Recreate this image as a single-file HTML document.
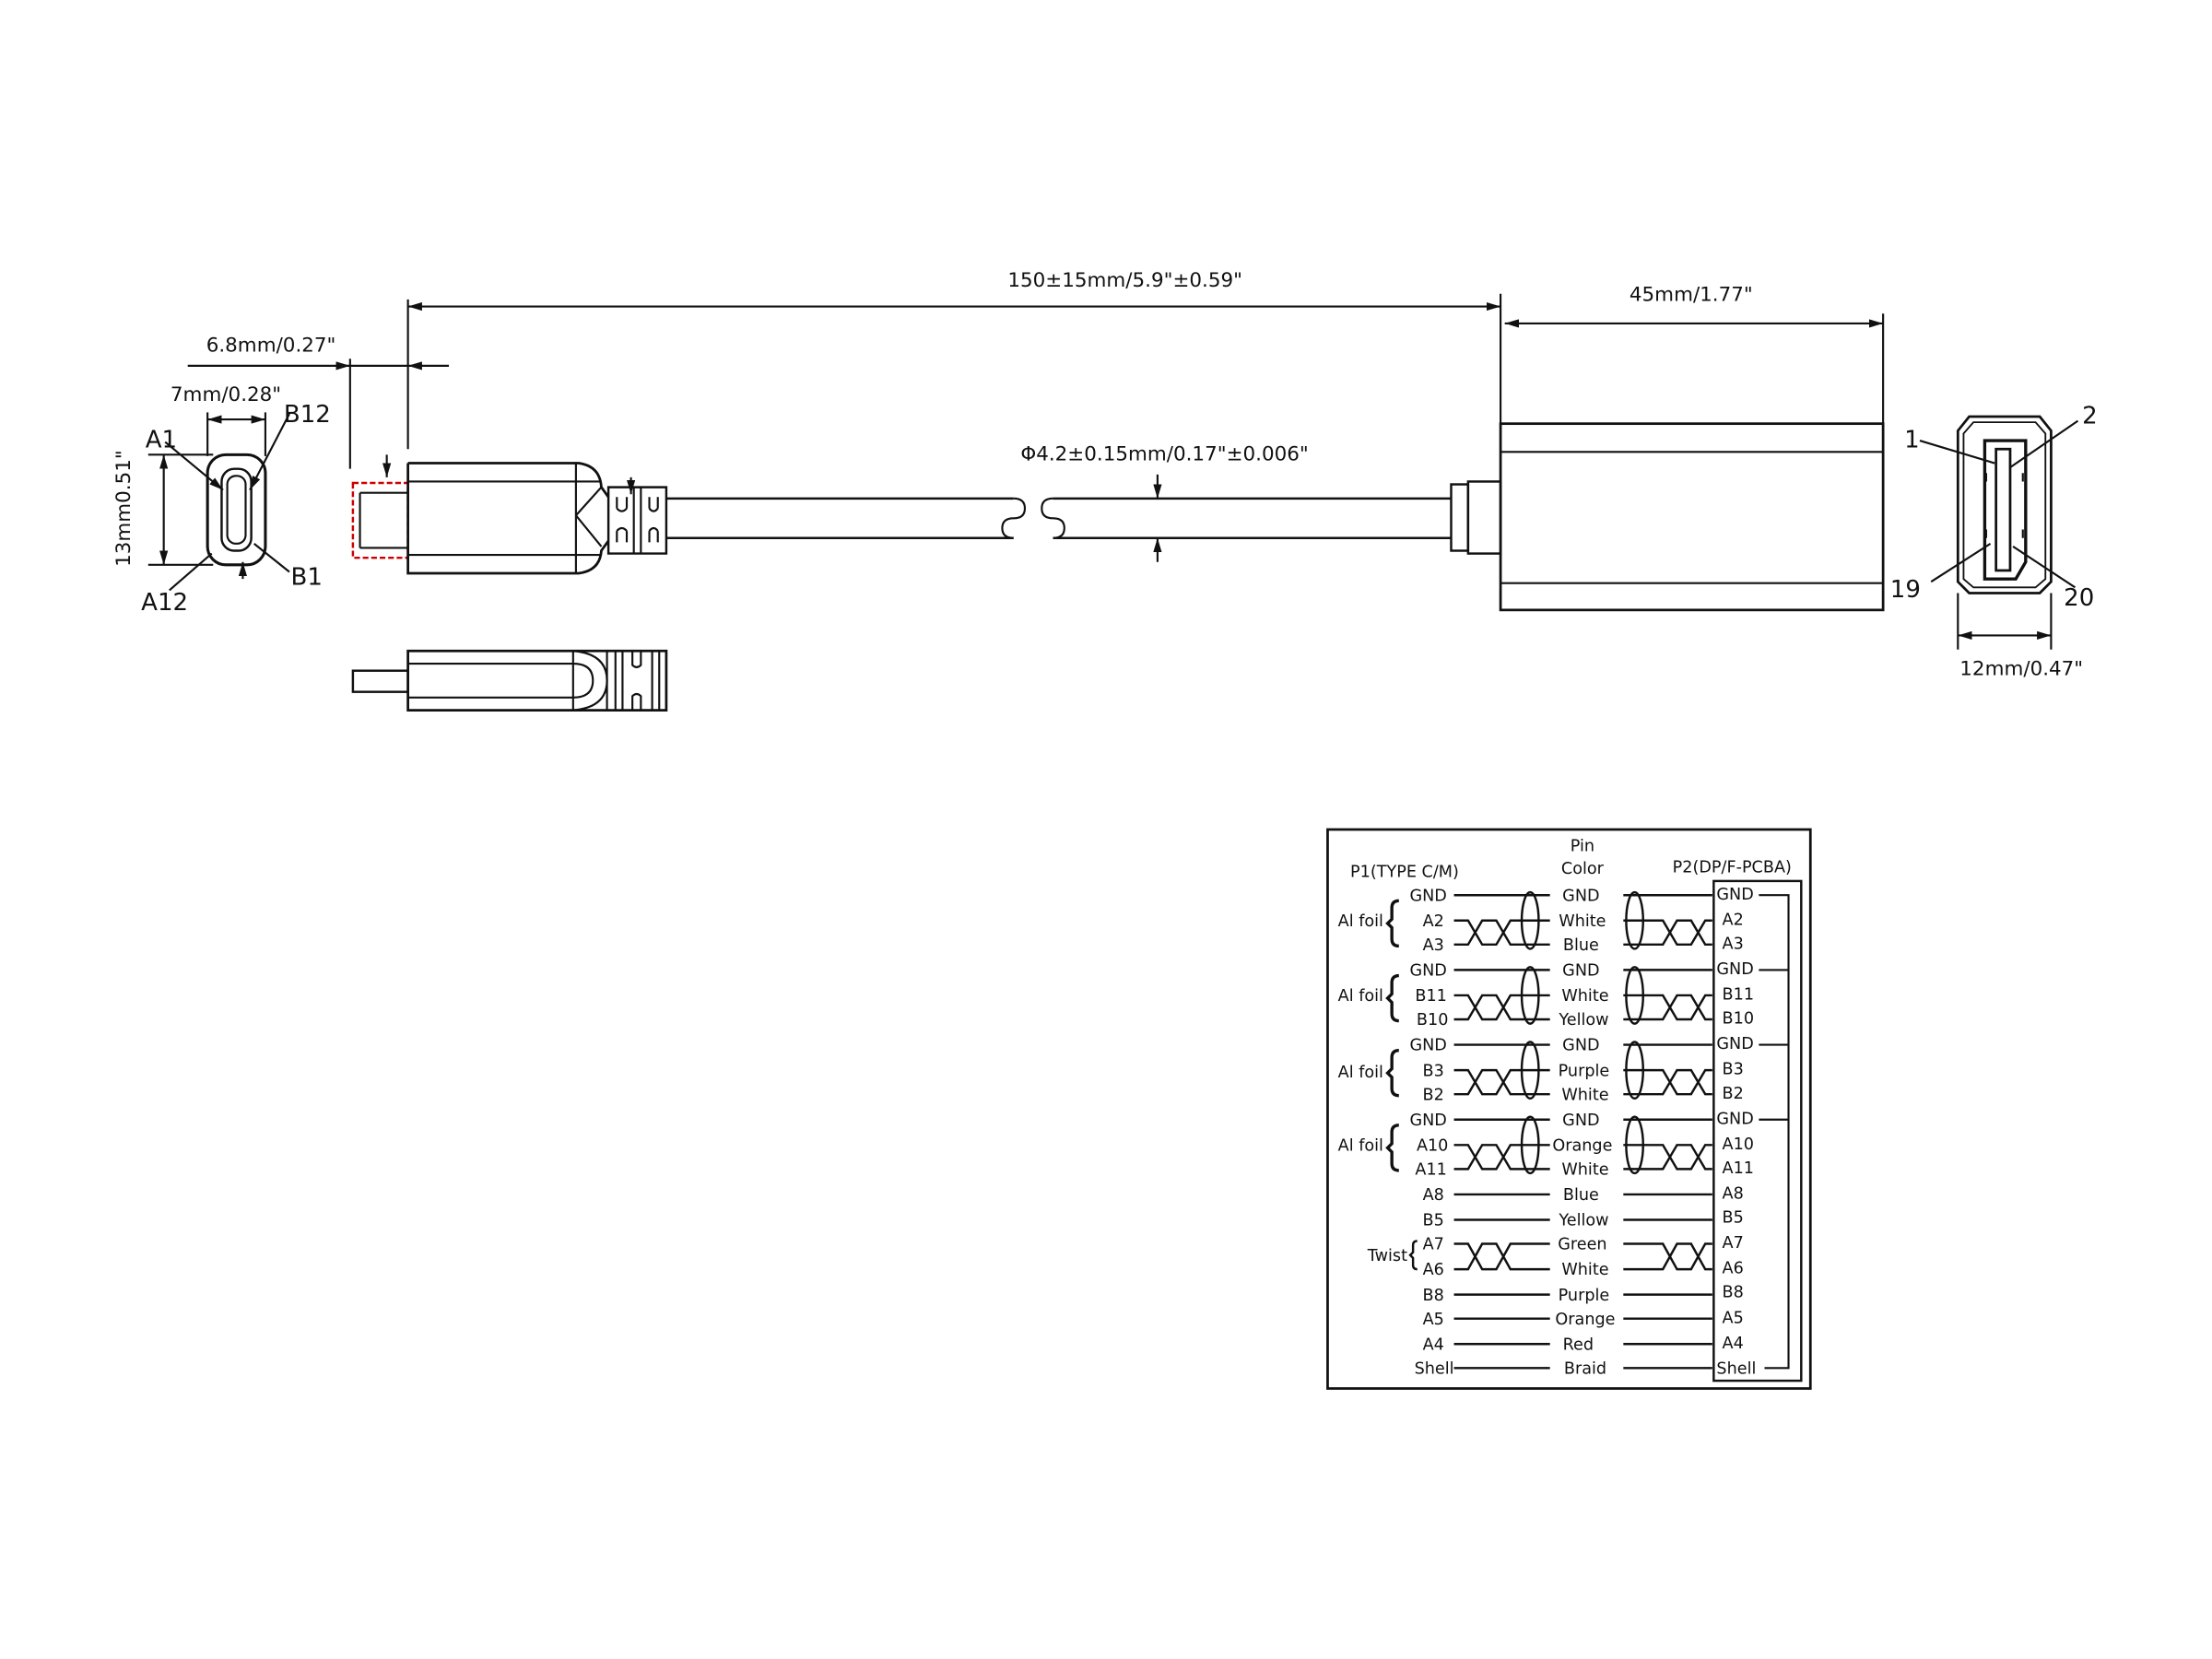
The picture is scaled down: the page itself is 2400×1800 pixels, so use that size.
<!DOCTYPE html>
<html><head><meta charset="utf-8"><style>
html,body{margin:0;padding:0;background:#fff}
svg{display:block}
text{font-family:"DejaVu Sans","Liberation Sans",sans-serif;fill:#111}
</style></head><body>
<svg width="2400" height="1800" viewBox="0 0 1567 1175" xmlns="http://www.w3.org/2000/svg">
<defs>
<marker id="ar" viewBox="0 0 10 6" refX="10" refY="3" markerWidth="10" markerHeight="6" orient="auto-start-reverse" markerUnits="userSpaceOnUse"><path d="M0,0 L10,3 L0,6z" fill="#111"/></marker>
</defs>
<g stroke="#111" fill="none" stroke-width="1.4">
<line x1="289" y1="212" x2="289" y2="318"/>
<line x1="1063" y1="208" x2="1063" y2="300"/>
<line x1="289" y1="217" x2="1063" y2="217" marker-start="url(#ar)" marker-end="url(#ar)"/>
<line x1="1334" y1="222" x2="1334" y2="300"/>
<line x1="1066" y1="229" x2="1334" y2="229" marker-start="url(#ar)" marker-end="url(#ar)"/>
<line x1="248" y1="254" x2="248" y2="332"/>
<line x1="133" y1="259" x2="248" y2="259" marker-end="url(#ar)"/>
<line x1="318" y1="259" x2="289" y2="259" marker-end="url(#ar)"/>
<line x1="248" y1="259" x2="289" y2="259"/>
<line x1="147" y1="292" x2="147" y2="323"/>
<line x1="188" y1="292" x2="188" y2="323"/>
<line x1="147" y1="297" x2="188" y2="297" marker-start="url(#ar)" marker-end="url(#ar)"/>
<line x1="105" y1="322" x2="151" y2="322"/>
<line x1="105" y1="400" x2="151" y2="400"/>
<line x1="116" y1="322" x2="116" y2="400" marker-start="url(#ar)" marker-end="url(#ar)"/>
<rect x="147" y="322" width="41" height="78" rx="13" stroke-width="2"/>
<rect x="157" y="332" width="21" height="58" rx="9" stroke-width="1.6"/>
<rect x="161" y="337" width="13" height="48" rx="6" stroke-width="1.4"/>
<line x1="117" y1="313" x2="158" y2="347" marker-end="url(#ar)"/>
<line x1="205" y1="293" x2="177" y2="347" marker-end="url(#ar)"/>
<line x1="205" y1="405" x2="180" y2="385"/>
<line x1="120" y1="418" x2="150" y2="392"/>
<line x1="172" y1="410" x2="172" y2="398" marker-end="url(#ar)"/>
<rect x="250" y="342" width="39" height="53" stroke="#c00" stroke-dasharray="4 2" stroke-width="1.6"/>
<line x1="255" y1="349" x2="289" y2="349"/>
<line x1="255" y1="388" x2="289" y2="388"/>
<line x1="255" y1="349" x2="255" y2="388"/>
<line x1="274" y1="322" x2="274" y2="338" marker-end="url(#ar)"/>
<path d="M289,328 H410 Q425,330 426,345 L431,352 M289,328 V406 H410 Q425,404 426,390 L431,383" stroke-width="1.8"/>
<line x1="289" y1="341" x2="426" y2="341"/>
<line x1="289" y1="393" x2="426" y2="393"/>
<line x1="408" y1="328" x2="408" y2="406"/>
<path d="M408,365 L426,345 M408,365 L426,387"/>
<path d="M431,345 H472 V392 H431 Z" stroke-width="1.6"/>
<path d="M437,352 v8 M444,352 v8 M437,376 v8 M444,376 v8 M437,360 q3.5,4 7,0 M437,376 q3.5,-4 7,0"/>
<path d="M460,352 v8 M466,352 v8 M460,376 v8 M466,376 v8 M460,360 q3,4 6,0 M460,376 q3,-4 6,0"/>
<line x1="449" y1="345" x2="449" y2="392"/><line x1="454" y1="345" x2="454" y2="392"/>
<line x1="447" y1="338" x2="447" y2="350" marker-end="url(#ar)"/>
<path d="M472,353 H718 M472,381 H718" stroke-width="1.6"/>
<path d="M718,353 q8,0 8,7 q0,7 -8,7 q-8,0 -8,7 q0,7 8,7"/>
<path d="M746,353 q-8,0 -8,7 q0,7 8,7 q8,0 8,7 q0,7 -8,7"/>
<path d="M746,353 H1028 M746,381 H1028" stroke-width="1.6"/>
<line x1="820" y1="336" x2="820" y2="353" marker-end="url(#ar)"/>
<line x1="820" y1="398" x2="820" y2="381" marker-end="url(#ar)"/>
<rect x="1028" y="343" width="12" height="47" stroke-width="1.6"/>
<rect x="1040" y="341" width="23" height="51" stroke-width="1.6"/>
<rect x="1063" y="300" width="271" height="132" stroke-width="1.8"/>
<line x1="1063" y1="320" x2="1334" y2="320"/>
<line x1="1063" y1="413" x2="1334" y2="413"/>
<path d="M1395,295 H1445 L1453,305 V412 L1445,420 H1395 L1387,412 V305 Z" stroke-width="1.8"/>
<path d="M1398,299 H1442 L1449,307 V410 L1442,416 H1398 L1391,410 V307 Z" stroke-width="1.2"/>
<path d="M1406,312 H1435 V398 L1428,410 H1406 Z" stroke-width="2.2"/>
<rect x="1414" y="318" width="10" height="86" stroke-width="1.8"/>
<path d="M1407,335 v6 M1407,375 v6 M1433,335 v6 M1433,375 v6"/>
<line x1="1360" y1="312" x2="1413" y2="328"/>
<line x1="1472" y1="298" x2="1424" y2="331"/>
<line x1="1368" y1="412" x2="1410" y2="385"/>
<line x1="1470" y1="416" x2="1426" y2="387"/>
<line x1="1387" y1="420" x2="1387" y2="460"/>
<line x1="1453" y1="420" x2="1453" y2="460"/>
<line x1="1387" y1="450" x2="1453" y2="450" marker-start="url(#ar)" marker-end="url(#ar)"/>
<rect x="250" y="475" width="39" height="15" stroke-width="1.6"/>
<path d="M289,461 H472 V503 H289 Z" stroke-width="1.8"/>
<line x1="289" y1="470" x2="406" y2="470"/>
<line x1="289" y1="494" x2="406" y2="494"/>
<line x1="406" y1="461" x2="406" y2="503"/>
<path d="M406,470 q14,0 14,12 q0,12 -14,12"/>
<path d="M406,461 q24,2 24,21 q0,19 -24,21"/>
<line x1="430" y1="461" x2="430" y2="503"/>
<path d="M436,461 v42 M441,461 v42 M462,461 v42 M467,461 v42"/>
<path d="M448,461 v10 q3,3 6,0 v-10 M448,503 v-10 q3,-3 6,0 v10"/>
<rect x="940.5" y="587.5" width="342" height="396" stroke-width="1.8"/>
<rect x="1214" y="624" width="62" height="354" stroke-width="1.6"/>
<path d="M1246,634 H1267 V969 H1250 M1246,687 H1267 M1246,740 H1267 M1246,793 H1267"/>
<g stroke-width="1.6">
<path d="M1030,634H1098 M1150,634H1213 M1030,687H1098 M1150,687H1213 M1030,740H1098 M1150,740H1213 M1030,793H1098 M1150,793H1213"/>
<path d="M1030,846H1098 M1150,846H1213 M1030,864H1098 M1150,864H1213 M1030,917H1098 M1150,917H1213 M1030,934H1098 M1150,934H1213 M1030,952H1098 M1150,952H1213 M1030,969H1098 M1150,969H1213"/>
<path d="M1030,652H1040L1050,669H1060L1070,652H1098 M1030,669H1040L1050,652H1060L1070,669H1098 M1150,652H1178L1188,669H1198L1208,652H1213 M1150,669H1178L1188,652H1198L1208,669H1213"/>
<path d="M1030,705H1040L1050,722H1060L1070,705H1098 M1030,722H1040L1050,705H1060L1070,722H1098 M1150,705H1178L1188,722H1198L1208,705H1213 M1150,722H1178L1188,705H1198L1208,722H1213"/>
<path d="M1030,758H1040L1050,775H1060L1070,758H1098 M1030,775H1040L1050,758H1060L1070,775H1098 M1150,758H1178L1188,775H1198L1208,758H1213 M1150,775H1178L1188,758H1198L1208,775H1213"/>
<path d="M1030,811H1040L1050,828H1060L1070,811H1098 M1030,828H1040L1050,811H1060L1070,828H1098 M1150,811H1178L1188,828H1198L1208,811H1213 M1150,828H1178L1188,811H1198L1208,828H1213"/>
<path d="M1030,881H1040L1050,899H1060L1070,881H1098 M1030,899H1040L1050,881H1060L1070,899H1098 M1150,881H1178L1188,899H1198L1208,881H1213 M1150,899H1178L1188,881H1198L1208,899H1213"/>
<ellipse cx="1084" cy="652" rx="6" ry="20"/><ellipse cx="1158" cy="652" rx="6" ry="20"/>
<ellipse cx="1084" cy="705" rx="6" ry="20"/><ellipse cx="1158" cy="705" rx="6" ry="20"/>
<ellipse cx="1084" cy="758" rx="6" ry="20"/><ellipse cx="1158" cy="758" rx="6" ry="20"/>
<ellipse cx="1084" cy="811" rx="6" ry="20"/><ellipse cx="1158" cy="811" rx="6" ry="20"/>
</g>
<g stroke-width="2.2">
<path d="M991,638 q-5,0 -5,5 v8 l-3,3 l3,3 v8 q0,5 5,5"/>
<path d="M991,691 q-5,0 -5,5 v8 l-3,3 l3,3 v8 q0,5 5,5"/>
<path d="M991,744 q-5,0 -5,5 v8 l-3,3 l3,3 v8 q0,5 5,5"/>
<path d="M991,797 q-5,0 -5,5 v8 l-3,3 l3,3 v8 q0,5 5,5"/>
</g>
<path d="M1004,879 q-3,0 -3,3 v5 l-2,2 l2,2 v5 q0,3 3,3" stroke-width="1.6"/>
</g>
<g font-size="14">
<text x="797" y="203" text-anchor="middle">150±15mm/5.9"±0.59"</text>
<text x="1198" y="213" text-anchor="middle">45mm/1.77"</text>
<text x="825" y="326" text-anchor="middle">Φ4.2±0.15mm/0.17"±0.006"</text>
<text x="192" y="249" text-anchor="middle">6.8mm/0.27"</text>
<text x="160" y="284" text-anchor="middle">7mm/0.28"</text>
<text x="1432" y="478" text-anchor="middle">12mm/0.47"</text>
<text transform="translate(92,360) rotate(-90)" text-anchor="middle">13mm0.51"</text>
</g>
<g font-family="Liberation Sans Narrow, Liberation Sans, sans-serif" font-size="17">
<text x="103" y="317">A1</text><text x="201" y="299">B12</text>
<text x="206" y="414">B1</text><text x="100" y="432">A12</text>
<text x="1349" y="317">1</text><text x="1475" y="300">2</text>
<text x="1339" y="423">19</text><text x="1462" y="429">20</text>
</g>
<g font-size="11.5">
<text x="995" y="621" text-anchor="middle">P1(TYPE C/M)</text>
<text x="1121" y="603" text-anchor="middle">Pin</text>
<text x="1121" y="619" text-anchor="middle">Color</text>
<text x="1227" y="618" text-anchor="middle">P2(DP/F-PCBA)</text>
<g text-anchor="end">
<text x="1025" y="638">GND</text><text x="1023" y="656">A2</text><text x="1023" y="673">A3</text>
<text x="1025" y="691">GND</text><text x="1025" y="709">B11</text><text x="1026" y="726">B10</text>
<text x="1025" y="744">GND</text><text x="1023" y="762">B3</text><text x="1023" y="779">B2</text>
<text x="1025" y="797">GND</text><text x="1026" y="815">A10</text><text x="1025" y="832">A11</text>
<text x="1023" y="850">A8</text><text x="1023" y="868">B5</text><text x="1023" y="885">A7</text>
<text x="1023" y="903">A6</text><text x="1023" y="921">B8</text><text x="1023" y="938">A5</text>
<text x="1023" y="956">A4</text><text x="1030" y="973">Shell</text>
<text x="980" y="656">Al foil</text><text x="980" y="709">Al foil</text>
<text x="980" y="763">Al foil</text><text x="980" y="815">Al foil</text>
<text x="997" y="893">Twist</text>
</g>
<g text-anchor="middle">
<text x="1120" y="638">GND</text><text x="1121" y="656">White</text><text x="1120" y="673">Blue</text>
<text x="1120" y="691">GND</text><text x="1123" y="709">White</text><text x="1122" y="726">Yellow</text>
<text x="1120" y="744">GND</text><text x="1122" y="762">Purple</text><text x="1123" y="779">White</text>
<text x="1120" y="797">GND</text><text x="1121" y="815">Orange</text><text x="1123" y="832">White</text>
<text x="1120" y="850">Blue</text><text x="1122" y="868">Yellow</text><text x="1121" y="885">Green</text>
<text x="1123" y="903">White</text><text x="1122" y="921">Purple</text><text x="1123" y="938">Orange</text>
<text x="1118" y="956">Red</text><text x="1123" y="973">Braid</text>
</g>
<g>
<text x="1216" y="637">GND</text><text x="1220" y="655">A2</text><text x="1220" y="672">A3</text>
<text x="1216" y="690">GND</text><text x="1220" y="708">B11</text><text x="1220" y="725">B10</text>
<text x="1216" y="743">GND</text><text x="1220" y="761">B3</text><text x="1220" y="778">B2</text>
<text x="1216" y="796">GND</text><text x="1220" y="814">A10</text><text x="1220" y="831">A11</text>
<text x="1220" y="849">A8</text><text x="1220" y="866">B5</text><text x="1220" y="884">A7</text>
<text x="1220" y="902">A6</text><text x="1220" y="919">B8</text><text x="1220" y="937">A5</text>
<text x="1220" y="955">A4</text><text x="1216" y="973">Shell</text>
</g>
</g>
</svg>
</body></html>
